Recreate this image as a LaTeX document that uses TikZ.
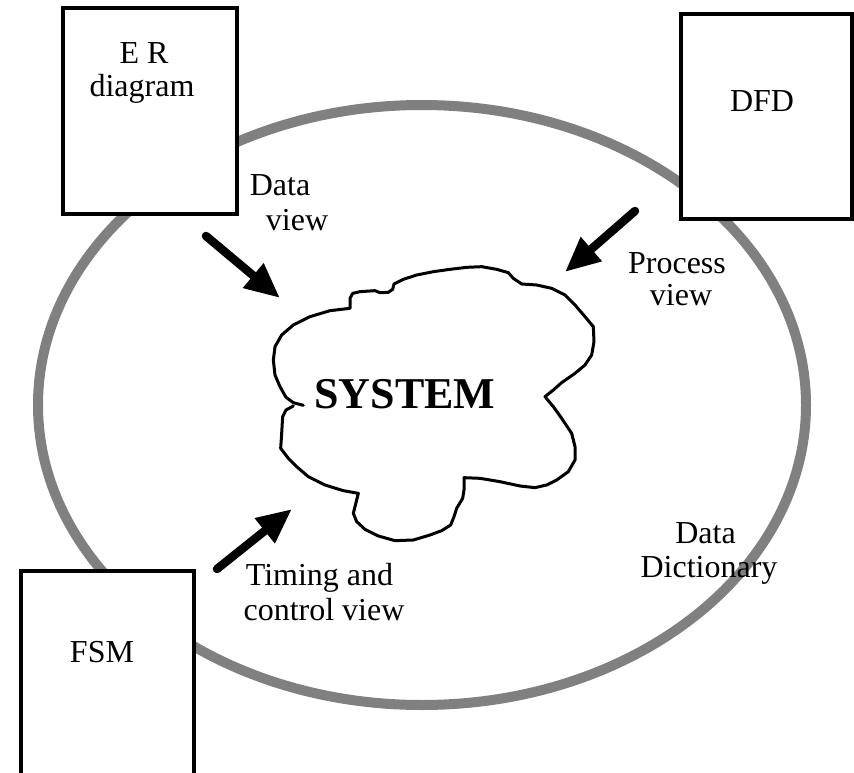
\documentclass[tikz,border=0pt]{standalone}
\usepackage{fontspec}
\setmainfont{Liberation Serif}
\usetikzlibrary{arrows.meta}
\begin{document}
\begin{tikzpicture}[x=1pt,y=-1pt,
  viewbox/.style={draw=black, line width=4pt, fill=white, inner sep=0pt},
  lbl/.style={font=\fontsize{32}{35}\selectfont, anchor=base, inner sep=0pt},
  bigarrow/.style={line width=8.5pt, line cap=round,
    -{Triangle[width=30pt,length=35pt]}},
  boundary/.style={draw=black!50, line width=10pt},
  cloudline/.style={draw=black, line width=3pt, line join=round, line cap=round},
]
\useasboundingbox (0,0) rectangle (854,773);
\clip (0,0) rectangle (854,773);

% the system boundary
\draw[boundary] (422,405) ellipse [x radius=384, y radius=300];

% the three views around the system
\node[viewbox, minimum width=174pt, minimum height=205.5pt] (er)  at (150,111.25) {};
\node[viewbox, minimum width=171pt, minimum height=204.5pt] (dfd) at (766,116.75) {};
\node[viewbox, minimum width=173pt, minimum height=229.5pt] (fsm) at (107,685.25) {};

\node[lbl] (erA) at (144,64) {E R};
\node[lbl] (erB) at (142,97) {diagram};
\node[lbl] (dfdT) at (762,112) {DFD};
\node[lbl] (fsmT) at (102,662) {FSM};

% the system itself, a hand-drawn cloud
\begin{scope}[shift={(260,260)}, scale=1/3]
\draw[cloudline] (130,436) -- (100,428) -- (78,412) -- (60,380) -- (45,345)
  -- (40,300) -- (45,260) -- (65,225) -- (100,195) -- (150,170) -- (210,152)
  -- (270,145) -- (270,115) -- (278,100) -- (300,95) -- (345,92) -- (360,98)
  -- (385,97) -- (398,88) -- (402,72) -- (430,58) -- (470,45) -- (520,35)
  -- (570,28) -- (620,22) -- (665,20) -- (710,28) -- (745,38) -- (760,55)
  -- (785,72) -- (830,75) -- (875,85) -- (915,105) -- (945,135) -- (975,170)
  -- (1000,200) -- (1002,245) -- (995,285) -- (975,315) -- (945,340)
  -- (905,368) -- (880,390) -- (855,410) -- (880,440) -- (905,475)
  -- (935,520) -- (945,560) -- (945,600) -- (925,635) -- (890,660)
  -- (860,675) -- (825,683) -- (780,678) -- (720,665) -- (660,655)
  -- (612,653) -- (612,690) -- (608,715) -- (590,745) -- (582,770)
  -- (572,795) -- (545,812) -- (510,825) -- (460,840) -- (405,842)
  -- (355,828) -- (315,808) -- (290,785) -- (280,760) -- (285,740)
  -- (295,700) -- (250,692) -- (195,675) -- (145,650) -- (110,620)
  -- (85,595) -- (62,565) -- (65,520) -- (68,470) -- (78,450) -- (100,438);
\end{scope}
\node[font=\fontsize{44}{48}\selectfont\bfseries, anchor=base, inner sep=0pt]
  (sys) at (405,408) {SYSTEM};

% arrows into the system
\coordinate (dvTail) at (206,236);
\coordinate (dvTip)  at (280,298);
\coordinate (pvTail) at (635,211);
\coordinate (pvTip)  at (565,272);
\coordinate (tcTail) at (217,569);
\coordinate (tcTip)  at (292,509);
\draw[bigarrow] (dvTail) -- (dvTip);
\draw[bigarrow] (pvTail) -- (pvTip);
\draw[bigarrow] (tcTail) -- (tcTip);

% view labels
\node[lbl] (dvA) at (280,195) {Data};
\node[lbl] (dvB) at (297,230) {view};
\node[lbl] (pvA) at (677,273) {Process};
\node[lbl] (pvB) at (681,305) {view};
\node[lbl] (tcA) at (319.5,585) {Timing and};
\node[lbl] (tcB) at (324,620) {control view};
\node[lbl] (ddA) at (705.5,543) {Data};
\node[lbl] (ddB) at (709,577) {Dictionary};
\end{tikzpicture}
\end{document}
